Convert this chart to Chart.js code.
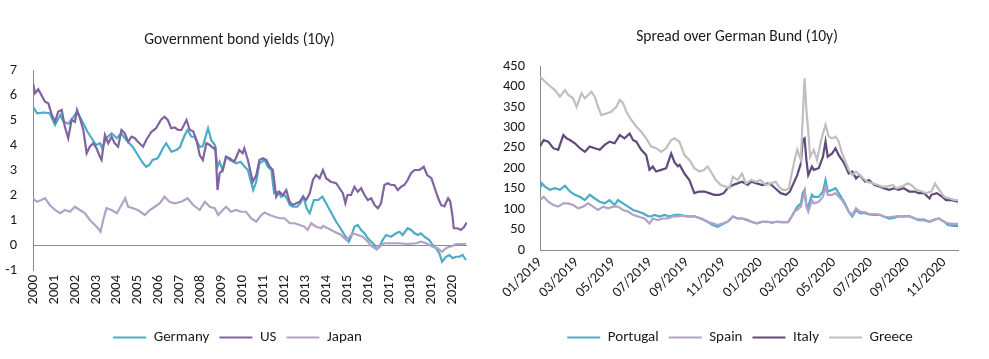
<!DOCTYPE html>
<html>
<head>
<meta charset="utf-8">
<script src="https://cdn.jsdelivr.net/npm/chart.js@4/dist/chart.umd.min.js"></script>
<style>
  html, body { margin: 0; padding: 0; background: #ffffff; }
  body { width: 989px; height: 359px; position: relative; overflow: hidden; }
  #left { position: absolute; left: 0; top: 0; }
  #right { position: absolute; left: 490px; top: 0; }
</style>
</head>
<body>
<canvas id="left" width="480" height="359"></canvas>
<canvas id="right" width="499" height="359"></canvas>
<script>
// ---------- Left chart: Government bond yields (10y), x = decimal year ----------
const yieldTitle = 'Government bond yields (10y)';
const yieldSeriesNames = ['Germany', 'US', 'Japan'];

const germanyYears = [2000.0,2000.2,2000.5,2000.8,2001.05,2001.3,2001.45,2001.7,2002.1,2002.4,2002.6,2002.8,2003.0,2003.2,2003.3,2003.5,2003.75,2004.0,2004.2,2004.45,2004.75,2005.0,2005.25,2005.4,2005.55,2005.7,2005.95,2006.2,2006.35,2006.6,2006.84,2007.0,2007.24,2007.37,2007.56,2007.7,2007.95,2008.1,2008.35,2008.5,2008.67,2008.8,2008.9,2009.05,2009.2,2009.4,2009.7,2009.9,2010.1,2010.25,2010.5,2010.65,2010.8,2011.05,2011.2,2011.37,2011.5,2011.7,2011.83,2012.0,2012.15,2012.25,2012.4,2012.6,2012.75,2012.9,2013.05,2013.2,2013.4,2013.6,2013.8,2013.98,2014.2,2014.46,2014.62,2014.86,2015.06,2015.17,2015.33,2015.49,2015.65,2015.81,2015.97,2016.13,2016.29,2016.4,2016.52,2016.68,2016.84,2017.08,2017.32,2017.48,2017.63,2017.87,2018.03,2018.2,2018.35,2018.5,2018.67,2018.9,2019.06,2019.22,2019.38,2019.51,2019.7,2019.86,2020.02,2020.17,2020.33,2020.49,2020.65];
const germanyYield = [5.53,5.27,5.3,5.27,4.8,5.2,4.93,4.85,5.33,4.87,4.53,4.27,4.0,4.07,3.87,4.27,4.47,4.27,4.47,4.2,3.93,3.6,3.27,3.13,3.2,3.4,3.47,3.87,4.07,3.73,3.8,3.9,4.4,4.6,4.33,4.33,3.93,3.95,4.67,4.2,4.0,3.13,3.33,3.0,3.53,3.4,3.27,3.33,3.13,3.0,2.2,2.53,3.27,3.4,3.13,3.0,2.07,2.13,1.93,2.0,1.8,1.6,1.53,1.53,1.67,1.93,1.47,1.27,1.8,1.8,1.93,1.67,1.33,0.93,0.73,0.4,0.13,0.33,0.73,0.8,0.6,0.47,0.27,0.13,0.0,-0.17,-0.07,0.2,0.4,0.33,0.47,0.53,0.4,0.67,0.6,0.47,0.4,0.47,0.33,0.2,0.0,-0.13,-0.33,-0.67,-0.47,-0.4,-0.53,-0.47,-0.47,-0.4,-0.6];

const usYears = [2000.0,2000.1,2000.25,2000.4,2000.57,2000.73,2000.9,2001.05,2001.2,2001.37,2001.52,2001.68,2001.84,2002.0,2002.1,2002.24,2002.4,2002.56,2002.71,2002.87,2003.03,2003.19,2003.27,2003.43,2003.59,2003.75,2003.9,2004.06,2004.22,2004.38,2004.54,2004.7,2004.86,2005.0,2005.25,2005.4,2005.65,2005.87,2006.1,2006.27,2006.43,2006.59,2006.76,2006.92,2007.08,2007.32,2007.48,2007.64,2007.8,2007.95,2008.1,2008.27,2008.43,2008.6,2008.7,2008.8,2008.9,2009.05,2009.21,2009.37,2009.6,2009.84,2010.0,2010.08,2010.25,2010.48,2010.65,2010.8,2010.97,2011.13,2011.29,2011.44,2011.6,2011.75,2011.92,2012.08,2012.24,2012.4,2012.56,2012.72,2012.87,2013.03,2013.2,2013.35,2013.5,2013.67,2013.83,2013.98,2014.2,2014.46,2014.62,2014.78,2014.9,2015.0,2015.17,2015.33,2015.49,2015.65,2015.81,2015.97,2016.13,2016.29,2016.45,2016.6,2016.76,2016.92,2017.08,2017.24,2017.4,2017.56,2017.71,2017.87,2018.03,2018.2,2018.43,2018.64,2018.8,2019.0,2019.14,2019.3,2019.46,2019.62,2019.8,2019.9,2020.0,2020.07,2020.25,2020.41,2020.57,2020.68];
const usYield = [6.47,6.07,6.23,6.0,5.73,5.67,5.2,4.93,5.33,5.4,4.73,4.27,5.0,4.93,5.4,5.07,4.6,3.67,3.93,4.07,3.87,3.53,3.4,4.4,4.07,4.33,4.07,3.93,4.6,4.47,4.13,4.33,4.27,4.13,3.93,4.2,4.53,4.67,5.0,5.13,5.0,4.67,4.7,4.6,4.6,5.0,4.6,4.55,4.2,3.6,3.4,4.07,4.0,3.87,3.9,2.2,2.87,3.0,3.53,3.47,3.33,3.8,3.67,3.87,3.4,2.53,2.8,3.4,3.47,3.4,3.13,3.0,1.93,2.13,2.0,2.2,1.73,1.6,1.67,1.73,1.93,1.8,2.07,2.6,2.8,2.67,3.0,2.67,2.53,2.47,2.27,2.07,1.67,2.0,2.0,2.33,2.13,2.27,2.0,1.8,1.87,1.6,1.47,1.67,2.4,2.47,2.4,2.4,2.2,2.33,2.4,2.6,2.87,3.0,3.0,3.13,2.8,2.67,2.33,1.93,1.6,1.55,1.87,1.75,1.2,0.67,0.67,0.6,0.73,0.9];

const japanYears = [2000.0,2000.17,2000.4,2000.57,2000.8,2001.05,2001.3,2001.52,2001.76,2002.0,2002.24,2002.48,2002.71,2002.95,2003.1,2003.22,2003.35,2003.5,2003.75,2004.0,2004.22,2004.4,2004.54,2004.78,2005.0,2005.33,2005.57,2005.81,2006.05,2006.27,2006.51,2006.75,2007.08,2007.37,2007.64,2007.95,2008.2,2008.43,2008.67,2008.83,2009.05,2009.21,2009.44,2009.68,2009.92,2010.16,2010.4,2010.65,2010.89,2011.05,2011.29,2011.52,2011.76,2012.0,2012.24,2012.48,2012.72,2012.95,2013.1,2013.27,2013.5,2013.75,2013.83,2014.06,2014.38,2014.7,2014.94,2015.1,2015.25,2015.49,2015.73,2015.97,2016.13,2016.35,2016.52,2016.76,2017.08,2017.48,2017.87,2018.27,2018.5,2018.75,2019.06,2019.3,2019.51,2019.7,2019.86,2020.02,2020.17,2020.41,2020.65];
const japanYield = [1.87,1.73,1.8,1.87,1.6,1.4,1.27,1.4,1.33,1.53,1.4,1.27,1.0,0.8,0.67,0.53,1.0,1.47,1.4,1.27,1.6,1.87,1.53,1.47,1.4,1.2,1.4,1.53,1.67,1.93,1.73,1.67,1.73,1.87,1.6,1.4,1.73,1.53,1.47,1.2,1.4,1.53,1.33,1.4,1.33,1.33,1.07,0.93,1.2,1.3,1.2,1.13,1.07,1.07,0.87,0.87,0.8,0.73,0.6,0.87,0.73,0.67,0.76,0.67,0.53,0.4,0.2,0.33,0.47,0.4,0.33,0.13,-0.04,-0.16,-0.07,0.07,0.07,0.07,0.04,0.07,0.13,0.07,-0.07,-0.13,-0.27,-0.13,-0.07,-0.04,0.04,0.04,0.04];

// ---------- Right chart: Spread over German Bund (10y), x = months since 01/2019 ----------
const spreadTitle = 'Spread over German Bund (10y)';
const spreadSeriesNames = ['Portugal', 'Spain', 'Italy', 'Greece'];

const portugalMonths = [0,0.1,0.27,0.54,0.81,1.08,1.36,1.63,1.9,2.17,2.44,2.71,2.98,3.25,3.52,3.79,4.06,4.24,4.52,4.79,5.06,5.33,5.6,5.87,6.05,6.23,6.5,6.78,7.05,7.32,7.59,8.0,8.4,8.76,9.12,9.4,9.66,9.93,10.2,10.5,10.75,11.0,11.3,11.5,11.8,12.1,12.4,12.6,12.9,13.2,13.5,13.7,13.85,14.0,14.2,14.3,14.4,14.5,14.6,14.8,14.9,15.17,15.4,15.54,15.66,15.9,16.08,16.26,16.44,16.6,16.8,17.0,17.2,17.4,17.7,17.9,18.2,18.5,18.7,19.0,19.3,19.5,19.8,20.1,20.4,20.6,20.9,21.2,21.4,21.7,22.0,22.2,22.5,22.75];
const portugalSpread = [151,163,155,147,151,147,157,143,135,130,122,135,126,118,114,122,110,122,114,106,98,94,90,83,82,86,82,86,82,86,86,82,82,77,69,61,57,63,69,82,77,77,73,69,65,69,69,67,69,68,68,82,94,106,114,139,147,110,106,135,130,130,143,171,143,147,151,139,126,114,94,82,98,90,90,87,86,86,82,77,79,82,82,83,77,73,73,69,73,77,69,61,59,59];

const spainMonths = [0,0.2,0.45,0.72,0.99,1.27,1.54,1.8,2.08,2.35,2.62,2.89,3.16,3.43,3.7,3.97,4.24,4.52,4.79,5.06,5.33,5.69,5.96,6.14,6.41,6.69,6.96,7.23,7.5,7.8,8.0,8.4,8.76,9.12,9.4,9.66,9.93,10.2,10.5,10.75,11.0,11.3,11.5,11.8,12.1,12.4,12.6,12.9,13.2,13.5,13.7,13.85,14.0,14.2,14.3,14.4,14.5,14.6,14.8,14.9,15.17,15.4,15.54,15.66,15.9,16.08,16.26,16.44,16.6,16.8,17.0,17.2,17.4,17.7,17.9,18.2,18.5,18.7,19.0,19.3,19.5,19.8,20.1,20.4,20.6,20.9,21.2,21.4,21.7,22.0,22.2,22.5,22.75];
const spainSpread = [122,130,118,110,106,114,114,110,102,106,114,106,98,106,102,106,106,98,94,86,82,77,65,77,73,77,77,82,82,84,82,82,77,69,65,61,65,69,82,77,77,73,69,65,69,69,67,69,68,68,82,94,98,106,126,143,106,94,122,114,118,130,155,135,135,139,130,122,110,94,86,102,94,92,88,88,86,82,80,82,83,82,82,77,75,75,69,73,77,69,65,64,64];

const italyMonths = [0,0.2,0.45,0.72,0.99,1.27,1.45,1.63,1.9,2.17,2.44,2.71,2.98,3.25,3.52,3.79,4.06,4.34,4.6,4.88,5.06,5.24,5.51,5.78,5.96,6.14,6.32,6.6,6.87,7.14,7.32,7.5,7.6,7.86,8.13,8.4,8.67,8.94,9.21,9.48,9.75,10.0,10.2,10.5,10.75,11.0,11.3,11.5,11.8,12.1,12.4,12.6,12.8,13.1,13.4,13.6,13.8,14.0,14.2,14.3,14.4,14.5,14.6,14.8,14.9,15.17,15.4,15.54,15.66,15.9,16.08,16.26,16.44,16.6,16.8,17.0,17.2,17.4,17.7,17.9,18.2,18.5,18.7,19.0,19.3,19.5,19.8,20.1,20.4,20.6,20.9,21.2,21.3,21.6,21.9,22.1,22.4,22.75];
const italySpread = [253,269,265,249,245,281,273,269,261,249,240,253,249,245,257,265,261,281,273,285,269,265,245,232,196,204,192,196,200,236,215,205,208,187,171,139,143,143,139,135,135,139,151,159,163,167,159,167,163,159,163,159,151,139,135,143,163,183,212,269,273,220,183,204,196,200,228,265,228,236,249,232,220,208,187,192,175,183,167,171,159,155,151,147,151,147,151,143,143,139,139,126,135,139,130,122,122,118];

const greeceMonths = [0,0.27,0.54,0.81,1.08,1.36,1.54,1.8,1.99,2.26,2.44,2.62,2.8,2.98,3.16,3.34,3.61,3.88,4.15,4.34,4.52,4.7,4.97,5.24,5.51,5.78,6.05,6.32,6.6,6.87,7.14,7.32,7.59,7.86,8.13,8.4,8.67,8.94,9.12,9.3,9.57,9.84,10.1,10.3,10.5,10.75,11.0,11.2,11.5,11.75,12.0,12.3,12.56,12.83,13.0,13.2,13.4,13.55,13.7,13.9,14.0,14.2,14.3,14.4,14.5,14.6,14.7,14.9,15.08,15.3,15.54,15.72,15.9,16.08,16.26,16.44,16.6,16.8,17.0,17.2,17.4,17.6,17.8,18.1,18.4,18.6,18.9,19.2,19.4,19.7,20.0,20.2,20.5,20.8,21.0,21.3,21.5,21.6,21.8,22.0,22.3,22.6,22.75];
const greeceSpread = [424,412,401,391,375,391,379,371,350,383,371,379,387,375,350,330,334,338,350,367,359,338,318,302,289,273,253,249,240,249,269,273,265,232,220,200,192,196,204,192,171,159,155,151,179,171,187,163,171,167,171,159,163,167,155,147,147,151,187,228,245,220,326,420,342,289,228,245,220,269,306,277,273,277,265,236,220,196,183,192,183,175,167,163,159,155,155,159,151,155,163,159,147,143,139,143,163,155,143,130,126,122,122];

// ---------- styling ----------
const FONT = 'Carlito, Calibri, Lato, "Open Sans", sans-serif';
const TEXT = '#1a1a1a';
const AXIS = '#8a8a8a';
const TICK_SIZE = 14.5;
const TITLE_SIZE = 15.5;
const LEGEND_SIZE = 15;

function pts(xs, ys) { return xs.map((x, i) => ({ x: x, y: ys[i] })); }
function line(label, xs, ys, color, order) {
  return { label, data: pts(xs, ys), borderColor: color, backgroundColor: color,
    borderWidth: 2.2, pointRadius: 0, pointHoverRadius: 0, tension: 0, fill: false, order };
}

const shiftPlugin = {
  id: 'shift',
  afterLayout(chart, args, opts) {
    if (chart.legend && opts.legendDx) { chart.legend.left += opts.legendDx; chart.legend.right += opts.legendDx; }
    if (chart.titleBlock && opts.titleDx) { chart.titleBlock.left += opts.titleDx; chart.titleBlock.right += opts.titleDx; }
  }
};

function legendOpts() {
  return {
    display: true, position: 'bottom',
    labels: {
      boxWidth: 33, boxHeight: 2, padding: 10, color: TEXT,
      font: { family: FONT, size: LEGEND_SIZE },
      sort: (a, b) => a.datasetIndex - b.datasetIndex,
      generateLabels: (chart) => Chart.defaults.plugins.legend.labels.generateLabels(chart)
        .map(l => Object.assign(l, { lineWidth: 0 }))
    }
  };
}

Chart.defaults.font.family = FONT;
Chart.defaults.color = TEXT;

new Chart(document.getElementById('left'), {
  type: 'line',
  data: { datasets: [
    line(yieldSeriesNames[0], germanyYears, germanyYield, '#4bacc6', 2),
    line(yieldSeriesNames[1], usYears, usYield, '#8064a2', 1),
    line(yieldSeriesNames[2], japanYears, japanYield, '#b3a2c7', 0)
  ]},
  plugins: [shiftPlugin],
  options: {
    responsive: false, animation: false, events: [],
    layout: { padding: { left: 0, right: 13, top: 0, bottom: 4 } },
    plugins: {
      title: { display: true, text: yieldTitle, color: TEXT, font: { family: FONT, size: TITLE_SIZE, weight: 'normal' }, padding: { top: 31, bottom: 20.4 } },
      legend: legendOpts(),
      tooltip: { enabled: false },
      shift: { titleDx: 6, legendDx: 4 }
    },
    scales: {
      x: {
        type: 'linear', min: 2000, max: 2020.7,
        afterFit: (s) => { s.height = 50; },
        grid: { display: false, drawTicks: false },
        border: { display: false },
        ticks: {
          stepSize: 1, autoSkip: false, includeBounds: false, minRotation: 90, maxRotation: 90, padding: 5,
          font: { family: FONT, size: TICK_SIZE }, color: TEXT,
          callback: (v) => Math.abs(v - Math.round(v)) < 1e-6 ? String(Math.round(v)) : ''
        }
      },
      y: {
        min: -1, max: 7,
        afterFit: (s) => { s.width = 33; },
        grid: { display: true, drawTicks: false, lineWidth: 1,
          color: (c) => (c.tick && c.tick.value === 0) ? AXIS : 'rgba(0,0,0,0)' },
        border: { display: true, color: AXIS, width: 1 },
        ticks: { stepSize: 1, padding: 16, font: { family: FONT, size: TICK_SIZE }, color: TEXT,
          callback: (v) => String(v) }
      }
    }
  }
});

function monthLabel(v) {
  const m = Math.round(v);
  if (Math.abs(v - m) > 1e-6) return '';
  const mm = (m % 12) + 1;
  const yy = 2019 + Math.floor(m / 12);
  return String(mm).padStart(2, '0') + '/' + yy;
}

new Chart(document.getElementById('right'), {
  type: 'line',
  data: { datasets: [
    line(spreadSeriesNames[0], portugalMonths, portugalSpread, '#4bacc6', 3),
    line(spreadSeriesNames[1], spainMonths, spainSpread, '#b3a2c7', 2),
    line(spreadSeriesNames[2], italyMonths, italySpread, '#604a7b', 1),
    line(spreadSeriesNames[3], greeceMonths, greeceSpread, '#bfbfbf', 0)
  ]},
  plugins: [shiftPlugin],
  options: {
    responsive: false, animation: false, events: [],
    layout: { padding: { left: 0, right: 31, top: 0, bottom: 4 } },
    plugins: {
      title: { display: true, text: spreadTitle, color: TEXT, font: { family: FONT, size: TITLE_SIZE, weight: 'normal' }, padding: { top: 28, bottom: 19.4 } },
      legend: legendOpts(),
      tooltip: { enabled: false },
      shift: { titleDx: 13, legendDx: 16 }
    },
    scales: {
      x: {
        type: 'linear', min: 0, max: 22.75,
        afterFit: (s) => { s.height = 70; },
        grid: { display: false, drawTicks: false },
        border: { display: true, color: AXIS, width: 1 },
        ticks: {
          stepSize: 2, autoSkip: false, includeBounds: false, minRotation: 45, maxRotation: 45, padding: 4,
          font: { family: FONT, size: TICK_SIZE }, color: TEXT,
          callback: monthLabel
        }
      },
      y: {
        min: 0, max: 450,
        afterFit: (s) => { s.width = 50; },
        grid: { display: false, drawTicks: false },
        border: { display: true, color: AXIS, width: 1 },
        ticks: { stepSize: 50, padding: 15, font: { family: FONT, size: TICK_SIZE }, color: TEXT,
          callback: (v) => String(v) }
      }
    }
  }
});
</script>
</body>
</html>
